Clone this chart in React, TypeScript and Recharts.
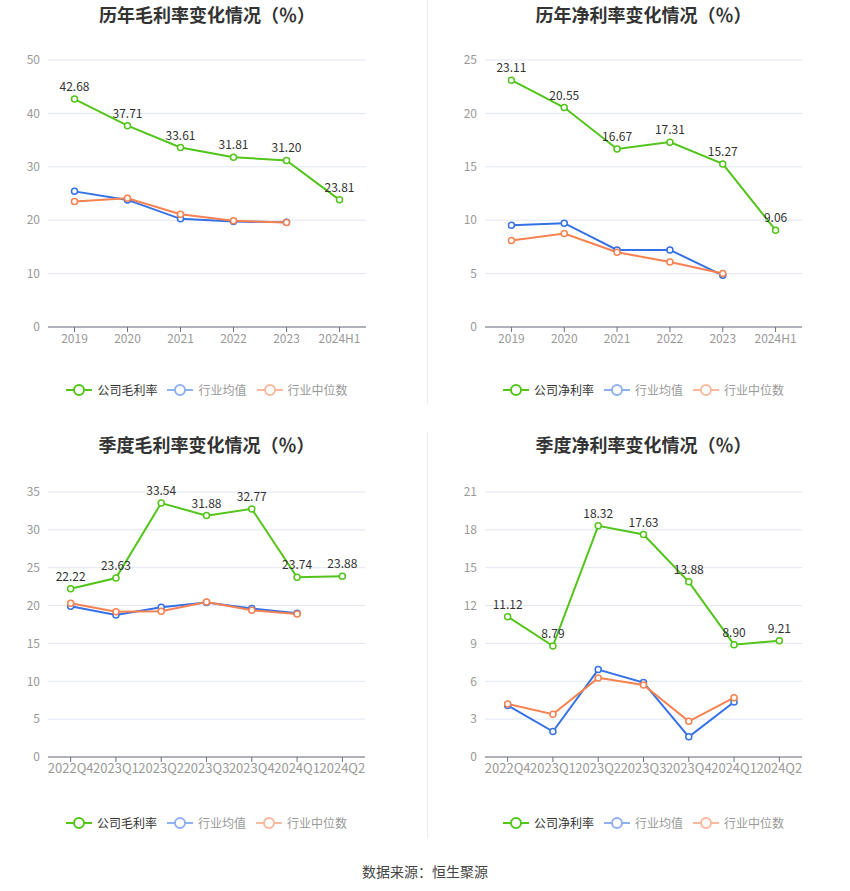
import { LineChart, Line, XAxis, YAxis, CartesianGrid, LabelList } from "recharts";

const FONT = '"Noto Sans CJK SC", "Noto Sans", sans-serif';
const GREEN = "#52c41a";
const BLUE = "#3471e6";
const ORANGE = "#f7814f";

// 年度数据
const years = ["2019", "2020", "2021", "2022", "2023", "2024H1"];
const annualGross = [42.68, 37.71, 33.61, 31.81, 31.2, 23.81];
const annualGrossAvg = [25.4, 23.8, 20.25, 19.75, 19.6, null];
const annualGrossMed = [23.5, 24.1, 21.1, 19.9, 19.55, null];
const annualNet = [23.11, 20.55, 16.67, 17.31, 15.27, 9.06];
const annualNetAvg = [9.53, 9.72, 7.22, 7.22, 4.84, null];
const annualNetMed = [8.09, 8.75, 7.0, 6.09, 5.0, null];

// 季度数据
const quarters = ["2022Q4", "2023Q1", "2023Q2", "2023Q3", "2023Q4", "2024Q1", "2024Q2"];
const qGross = [22.22, 23.63, 33.54, 31.88, 32.77, 23.74, 23.88];
const qGrossAvg = [19.9, 18.77, 19.77, 20.4, 19.6, 19.0, null];
const qGrossMed = [20.3, 19.2, 19.25, 20.47, 19.38, 18.9, null];
const qNet = [11.12, 8.79, 18.32, 17.63, 13.88, 8.9, 9.21];
const qNetAvg = [4.09, 2.02, 6.93, 5.9, 1.6, 4.36, null];
const qNetMed = [4.2, 3.39, 6.27, 5.7, 2.83, 4.7, null];

const grossTicks = [0, 10, 20, 30, 40, 50];
const netTicks = [0, 5, 10, 15, 20, 25];
const qGrossTicks = [0, 5, 10, 15, 20, 25, 30, 35];
const qNetTicks = [0, 3, 6, 9, 12, 15, 18, 21];

type PanelProps = {
  left: number;
  top: number;
  title: string;
  name: string;
  categories: string[];
  company: number[];
  avg: (number | null)[];
  med: (number | null)[];
  ticks: number[];
  plotLeft: number;
  plotRight: number;
  plotTop: number;
  legendTop: number;
  xFont: number;
};

const LegendIcon = ({ color, faded }: { color: string; faded?: boolean }) => (
  <svg width={26} height={14} style={{ opacity: faded ? 0.55 : 1, marginRight: 5 }}>
    <line x1={0} y1={7} x2={26} y2={7} stroke={color} strokeWidth={2} />
    <circle cx={13} cy={7} r={5} fill="#fff" stroke={color} strokeWidth={2} />
  </svg>
);

const Panel = (p: PanelProps) => {
  const width = 425;
  const height = 360;
  const plotW = p.plotRight - p.plotLeft;
  const pad = plotW / p.categories.length / 2;
  const data = p.categories.map((c, i) => ({
    name: c,
    company: p.company[i],
    avg: p.avg[i],
    med: p.med[i],
  }));
  const max = p.ticks[p.ticks.length - 1];
  const center = (p.plotLeft + p.plotRight) / 2;

  return (
    <div style={{ position: "absolute", left: p.left, top: p.top, width, height: 410 }}>
      <div
        style={{
          position: "absolute",
          left: center - 200,
          width: 400,
          top: 1,
          textAlign: "center",
          fontSize: 18,
          fontWeight: "bold",
          color: "#333",
        }}
      >
        {p.title}
      </div>
      <div style={{ position: "absolute", left: 0, top: 0 }}>
        <LineChart
          width={width}
          height={height}
          data={data}
          margin={{ top: p.plotTop, left: p.plotLeft - 40, right: width - p.plotRight, bottom: 3 }}
        >
          <CartesianGrid vertical={false} stroke="#e0e6f1" />
          <XAxis
            dataKey="name"
            interval={0}
            padding={{ left: pad, right: pad }}
            axisLine={{ stroke: "#6e7079" }}
            tickLine={{ stroke: "#6e7079" }}
            tickSize={5}
            tick={{ fill: "#999", fontSize: p.xFont }}
            height={30}
          />
          <YAxis
            width={40}
            domain={[0, max]}
            ticks={p.ticks}
            axisLine={false}
            tickLine={false}
            tick={{ fill: "#999", fontSize: 12 }}
          />
          <Line
            dataKey="avg"
            stroke={BLUE}
            strokeWidth={2}
            dot={{ r: 3, fill: "#fff", stroke: BLUE, strokeWidth: 1.5 }}
            isAnimationActive={false}
          />
          <Line
            dataKey="med"
            stroke={ORANGE}
            strokeWidth={2}
            dot={{ r: 3, fill: "#fff", stroke: ORANGE, strokeWidth: 1.5 }}
            isAnimationActive={false}
          />
          <Line
            dataKey="company"
            stroke={GREEN}
            strokeWidth={2}
            dot={{ r: 3, fill: "#fff", stroke: GREEN, strokeWidth: 1.5 }}
            isAnimationActive={false}
          >
            <LabelList
              dataKey="company"
              position="top"
              offset={8}
              fill="#333"
              fontSize={12}
              formatter={(v: any) => Number(v).toFixed(2)}
            />
          </Line>
        </LineChart>
      </div>
      <div
        style={{
          position: "absolute",
          top: p.legendTop - 8,
          left: center - 200,
          width: 400,
          display: "flex",
          justifyContent: "center",
          alignItems: "center",
          fontSize: 12,
          lineHeight: "16px",
        }}
      >
        <LegendIcon color={GREEN} />
        <span style={{ color: "#333", marginRight: 10 }}>{p.name}</span>
        <LegendIcon color={BLUE} faded />
        <span style={{ color: "#999", marginRight: 10 }}>行业均值</span>
        <LegendIcon color={ORANGE} faded />
        <span style={{ color: "#999" }}>行业中位数</span>
      </div>
    </div>
  );
};

export default function App() {
  return (
    <div
      style={{
        position: "absolute",
        left: 0,
        top: 0,
        width: 850,
        height: 891,
        background: "#fff",
        fontFamily: FONT,
      }}
    >
      <Panel
        left={0}
        top={0}
        title="历年毛利率变化情况（％）"
        name="公司毛利率"
        categories={years}
        company={annualGross}
        avg={annualGrossAvg}
        med={annualGrossMed}
        ticks={grossTicks}
        plotLeft={48}
        plotRight={366}
        plotTop={60}
        legendTop={390}
        xFont={12}
      />
      <Panel
        left={425}
        top={0}
        title="历年净利率变化情况（％）"
        name="公司净利率"
        categories={years}
        company={annualNet}
        avg={annualNetAvg}
        med={annualNetMed}
        ticks={netTicks}
        plotLeft={60}
        plotRight={377}
        plotTop={60}
        legendTop={390}
        xFont={12}
      />
      <Panel
        left={0}
        top={430}
        title="季度毛利率变化情况（％）"
        name="公司毛利率"
        categories={quarters}
        company={qGross}
        avg={qGrossAvg}
        med={qGrossMed}
        ticks={qGrossTicks}
        plotLeft={48}
        plotRight={365}
        plotTop={62}
        legendTop={393}
        xFont={13}
      />
      <Panel
        left={425}
        top={430}
        title="季度净利率变化情况（％）"
        name="公司净利率"
        categories={quarters}
        company={qNet}
        avg={qNetAvg}
        med={qNetMed}
        ticks={qNetTicks}
        plotLeft={60}
        plotRight={377}
        plotTop={62}
        legendTop={393}
        xFont={13}
      />
      <div style={{ position: "absolute", left: 427, top: 0, width: 1, height: 405, background: "#eee" }} />
      <div style={{ position: "absolute", left: 427, top: 432, width: 1, height: 406, background: "#eee" }} />
      <div
        style={{
          position: "absolute",
          left: 0,
          width: 850,
          top: 861,
          textAlign: "center",
          fontSize: 14,
          color: "#444",
        }}
      >
        数据来源：恒生聚源
      </div>
    </div>
  );
}
